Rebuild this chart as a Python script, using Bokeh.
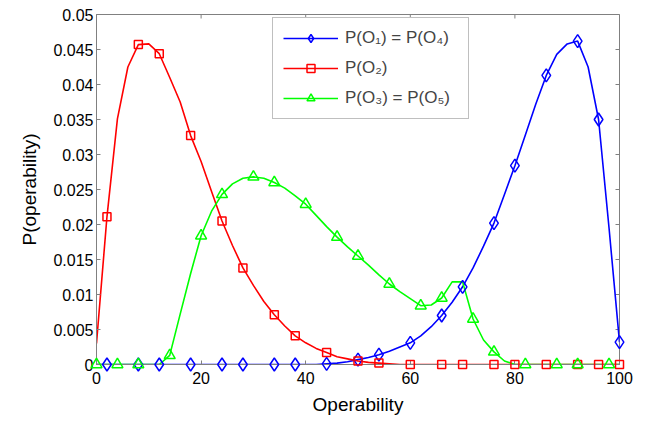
import math
from bokeh.plotting import figure
from bokeh.models import FixedTicker, Legend, LegendItem, Range1d
from bokeh.embed import file_html
from bokeh.resources import INLINE

# ---------------- data ----------------
x_pts = [0, 2, 4, 6, 8, 10, 12, 14, 16, 18, 20, 22, 24, 26, 28, 30, 32, 34, 36, 38,
         40, 42, 44, 46, 48, 50, 52, 54, 56, 58, 60, 62, 64, 66, 68, 70, 72, 74, 76, 78,
         80, 82, 84, 86, 88, 90, 92, 94, 96, 98, 100]

p_o1 = [0, 0, 0, 0, 0, 0, 0, 0, 0, 0, 0, 0, 0, 0, 0, 0, 0, 0, 0, 0,
        0, 0, 0.0001, 0.0002, 0.0004, 0.0007, 0.0010, 0.0014, 0.0019, 0.0025,
        0.0031, 0.0041, 0.0054, 0.0070, 0.0089, 0.0111, 0.0138, 0.0169, 0.0202, 0.0243,
        0.0284, 0.0328, 0.0372, 0.0413, 0.0443, 0.0458, 0.0462, 0.0425, 0.0350, 0.0195,
        0.0032]

p_o2 = [0.0030, 0.0211, 0.0351, 0.0425, 0.0457, 0.0458, 0.0444, 0.0410, 0.0375, 0.0327,
        0.0290, 0.0247, 0.0205, 0.0170, 0.0138, 0.0113, 0.0090, 0.0071, 0.0055, 0.0041,
        0.0031, 0.0023, 0.0017, 0.0011, 0.0008, 0.0005, 0.0003, 0.0002, 0.0001, 0,
        0, 0, 0, 0, 0, 0, 0, 0, 0, 0,
        0, 0, 0, 0, 0, 0, 0, 0, 0, 0, 0]

p_o3 = [0, 0, 0, 0, 0, 0, 0, 0.0013, 0.0072, 0.0130,
        0.0184, 0.0219, 0.0243, 0.0258, 0.0266, 0.0268, 0.0266, 0.0260, 0.0252, 0.0241,
        0.0229, 0.0213, 0.0197, 0.0182, 0.0168, 0.0155, 0.0142, 0.0128, 0.0115, 0.0104,
        0.0094, 0.0084, 0.0085, 0.0095, 0.0118, 0.0118, 0.0065, 0.0035, 0.0018, 0.0005,
        0, 0, 0, 0, 0, 0, 0, 0, 0, 0, 0]

# marker positions along each curve
mk_o1 = [2, 8, 12, 18, 24, 28, 34, 38, 44, 50, 54, 60, 66, 70, 76, 80, 86, 92, 96, 100]
mk_o2 = [2, 8, 12, 18, 24, 28, 34, 38, 44, 50, 54, 60, 66, 70, 76, 80, 86, 92, 96, 100]
mk_o3 = [0, 4, 8, 14, 20, 24, 30, 34, 40, 46, 50, 56, 62, 66, 72, 76, 82, 88, 92, 98]

labels = ["P(O\u2081) = P(O\u2084)", "P(O\u2082)", "P(O\u2083) = P(O\u2085)"]

x_min, x_max = 0, 100
y_min, y_max = 0, 0.05
x_ticks = [0, 20, 40, 60, 80, 100]
y_ticks = [0, 0.005, 0.01, 0.015, 0.02, 0.025, 0.03, 0.035, 0.04, 0.045, 0.05]
y_tick_labels = ["0", "0.005", "0.01", "0.015", "0.02", "0.025", "0.03", "0.035",
                 "0.04", "0.045", "0.05"]

# ---------------- figure ----------------
FONT = "Liberation Sans"
GRAY = "#808080"

p = figure(width=640, height=418, output_backend="svg", toolbar_location=None,
           x_range=Range1d(x_min, x_max), y_range=Range1d(y_min, y_max),
           min_border_left=96, min_border_right=21, min_border_top=14,
           min_border_bottom=54)
p.background_fill_color = "white"
p.border_fill_color = "white"
p.outline_line_color = GRAY
p.xgrid.visible = False
p.ygrid.visible = False

# inward ticks on the top and right edges (outer half of each mark is clipped by the frame)
p.scatter(x_ticks, [y_max] * len(x_ticks), marker="dash", angle=math.pi / 2, size=8,
          line_color=GRAY, line_width=1)
p.scatter([x_max] * len(y_ticks), y_ticks, marker="dash", size=8,
          line_color=GRAY, line_width=1)


def pick(xs, ys, sel):
    lut = dict(zip(xs, ys))
    return [lut[v] for v in sel]


series = [
    (p_o1, mk_o1, "#0000ff", "diamond", 13),
    (p_o2, mk_o2, "#ff0000", "square", 8),
    (p_o3, mk_o3, "#00ff00", "triangle", 11),
]
items = []
for (ys, mk, col, marker, size), lab in zip(series, labels):
    lr = p.line(x_pts, ys, line_color=col, line_width=1.6)
    # overlay level: markers sitting on the zero line are drawn whole, not clipped
    mr = p.scatter(mk, pick(x_pts, ys, mk), marker=marker, size=size,
                   line_color=col, fill_color=None, line_width=1.5, level="overlay")
    items.append(LegendItem(label=lab, renderers=[lr, mr]))

# axes
xa = p.xaxis[0]
ya = p.yaxis[0]
xa.ticker = FixedTicker(ticks=x_ticks)
ya.ticker = FixedTicker(ticks=y_ticks)
ya.major_label_overrides = dict(zip(y_ticks, y_tick_labels))
xa.axis_label = "Operability"
ya.axis_label = "P(operability)"
for ax in (xa, ya):
    ax.axis_line_color = GRAY
    ax.major_tick_line_color = GRAY
    ax.major_tick_in = 4
    ax.major_tick_out = 0
    ax.minor_tick_line_color = None
    ax.major_label_text_font = FONT
    ax.major_label_text_font_size = "16px"
    ax.major_label_text_color = "black"
    ax.axis_label_text_font = FONT
    ax.axis_label_text_font_size = "19px"
    ax.axis_label_text_font_style = "normal"
    ax.axis_label_text_color = "black"
xa.major_label_standoff = 7
xa.axis_label_standoff = 7
ya.major_label_standoff = 3
ya.axis_label_standoff = 10

legend = Legend(items=items, location=(176, 245), margin=0, padding=10,
                spacing=10, glyph_width=55, glyph_height=20, label_height=20,
                label_width=113, label_standoff=7, label_text_font=FONT,
                label_text_font_size="17px",
                border_line_color=GRAY, border_line_width=1,
                background_fill_color="white", background_fill_alpha=1)
p.add_layout(legend)

open("out.html", "w").write(file_html(p, INLINE))
